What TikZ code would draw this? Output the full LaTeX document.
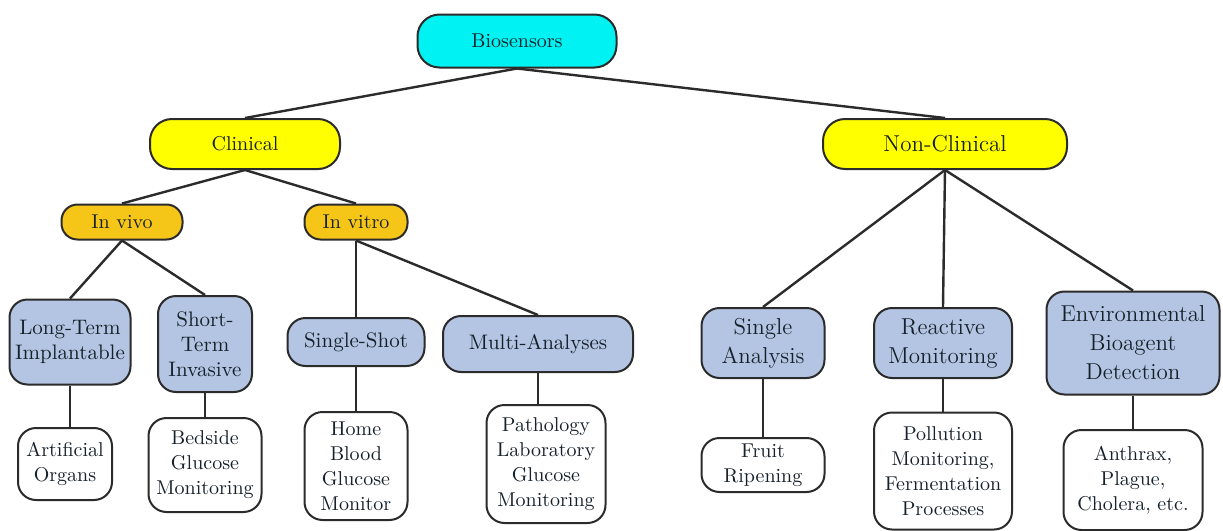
\documentclass[tikz,border=0pt]{standalone}
\definecolor{rootcyan}{HTML}{00F2F2}
\definecolor{catyellow}{HTML}{FFFF00}
\definecolor{subgold}{HTML}{F5C518}
\definecolor{kindblue}{HTML}{B3C5E2}
\definecolor{rim}{HTML}{2B2B2B}
\definecolor{ink}{HTML}{16202A}
\begin{document}
\begin{tikzpicture}[x=0.5pt, y=-0.5pt,
        box/.style={draw=rim, line width=1pt, rounded corners=9pt, inner sep=0pt,
                    align=center, text=ink},
        root/.style={box, fill=rootcyan, minimum width=99.5pt, minimum height=26.5pt,
                     rounded corners=11pt, font=\fontsize{10}{12}\selectfont},
        cat/.style={box, fill=catyellow, minimum height=25pt, rounded corners=11pt,
                    font=\fontsize{10}{12}\selectfont},
        sub/.style={box, fill=subgold, minimum height=17.5pt, rounded corners=8pt,
                    font=\fontsize{10}{12}\selectfont},
        kind/.style={box, fill=kindblue, font=\fontsize{10.5}{12.5}\selectfont},
        kindr/.style={kind, font=\fontsize{11.5}{14.5}\selectfont},
        leaf/.style={box, fill=white, font=\fontsize{10}{12.5}\selectfont},
        link/.style={draw=rim, line width=1.2pt}
      ]
      \useasboundingbox (0,0) rectangle (1223,531);

      % Wurzel und Kategorien
      \node[root] (bio) at (517,41) {Biosensors};
      \node[cat, minimum width=95pt]  (cl) at (245,144) {Clinical};
      \node[cat, minimum width=122pt, font=\fontsize{11.5}{13}\selectfont] (nc) at (945,144) {Non-Clinical};

      % In vivo / In vitro
      \node[sub, minimum width=60.5pt] (iv) at (122,222) {In vivo};
      \node[sub, minimum width=51.5pt] (it) at (356,222) {In vitro};

      % Sensorarten
      \node[kind, minimum width=60.5pt, minimum height=42.5pt] (lt) at (70,342)  {Long-Term\\Implantable};
      \node[kind, minimum width=47pt,   minimum height=48pt]   (st) at (205,344) {Short-\\Term\\Invasive};
      \node[kind, minimum width=68.5pt, minimum height=24pt]   (ss) at (356,342) {Single-Shot};
      \node[kind, minimum width=95pt,   minimum height=28pt]   (ma) at (538,344) {Multi-Analyses};
      \node[kindr, minimum width=61.5pt, minimum height=35pt]  (sa) at (763,343) {Single\\Analysis};
      \node[kindr, minimum width=69pt,   minimum height=35pt]  (rm) at (943,343) {Reactive\\Monitoring};
      \node[kindr, minimum width=86.5pt, minimum height=51.5pt] (eb) at (1133,343) {Environmental\\Bioagent\\Detection};

      % Anwendungen
      \node[leaf, minimum width=47pt,   minimum height=36pt]   (ao) at (65,464)  {Artificial\\Organs};
      \node[leaf, minimum width=56.5pt, minimum height=47pt]   (bg) at (205,465) {Bedside\\Glucose\\Monitoring};
      \node[leaf, minimum width=51.5pt, minimum height=54pt]   (hb) at (356,466) {Home\\Blood\\Glucose\\Monitor};
      \node[leaf, minimum width=59.5pt, minimum height=59pt]   (pl) at (546,464) {Pathology\\Laboratory\\Glucose\\Monitoring};
      \node[leaf, minimum width=61.5pt, minimum height=27pt]   (fr) at (763,465) {Fruit\\Ripening};
      \node[leaf, minimum width=69pt,   minimum height=58.5pt] (pm) at (943,471) {Pollution\\Monitoring,\\Fermentation\\Processes};
      \node[leaf, minimum width=69.5pt, minimum height=50pt]   (an) at (1133,480) {Anthrax,\\Plague,\\Cholera, etc.};

      % Verbindungen nach unten
      \foreach \p/\c in {bio/cl, bio/nc, cl/iv, cl/it, iv/lt, iv/st, it/ss, it/ma,
                         nc/sa, nc/rm, nc/eb} {
        \draw[link] (\p.south) -- (\c.north);
      }
      % senkrecht zu den Anwendungen
      \foreach \p/\c in {lt/ao, st/bg, ss/hb, ma/pl, sa/fr, rm/pm, eb/an} {
        \draw[link] (\p.south) -- (\p.south |- \c.north);
      }
    \end{tikzpicture}
\end{document}
